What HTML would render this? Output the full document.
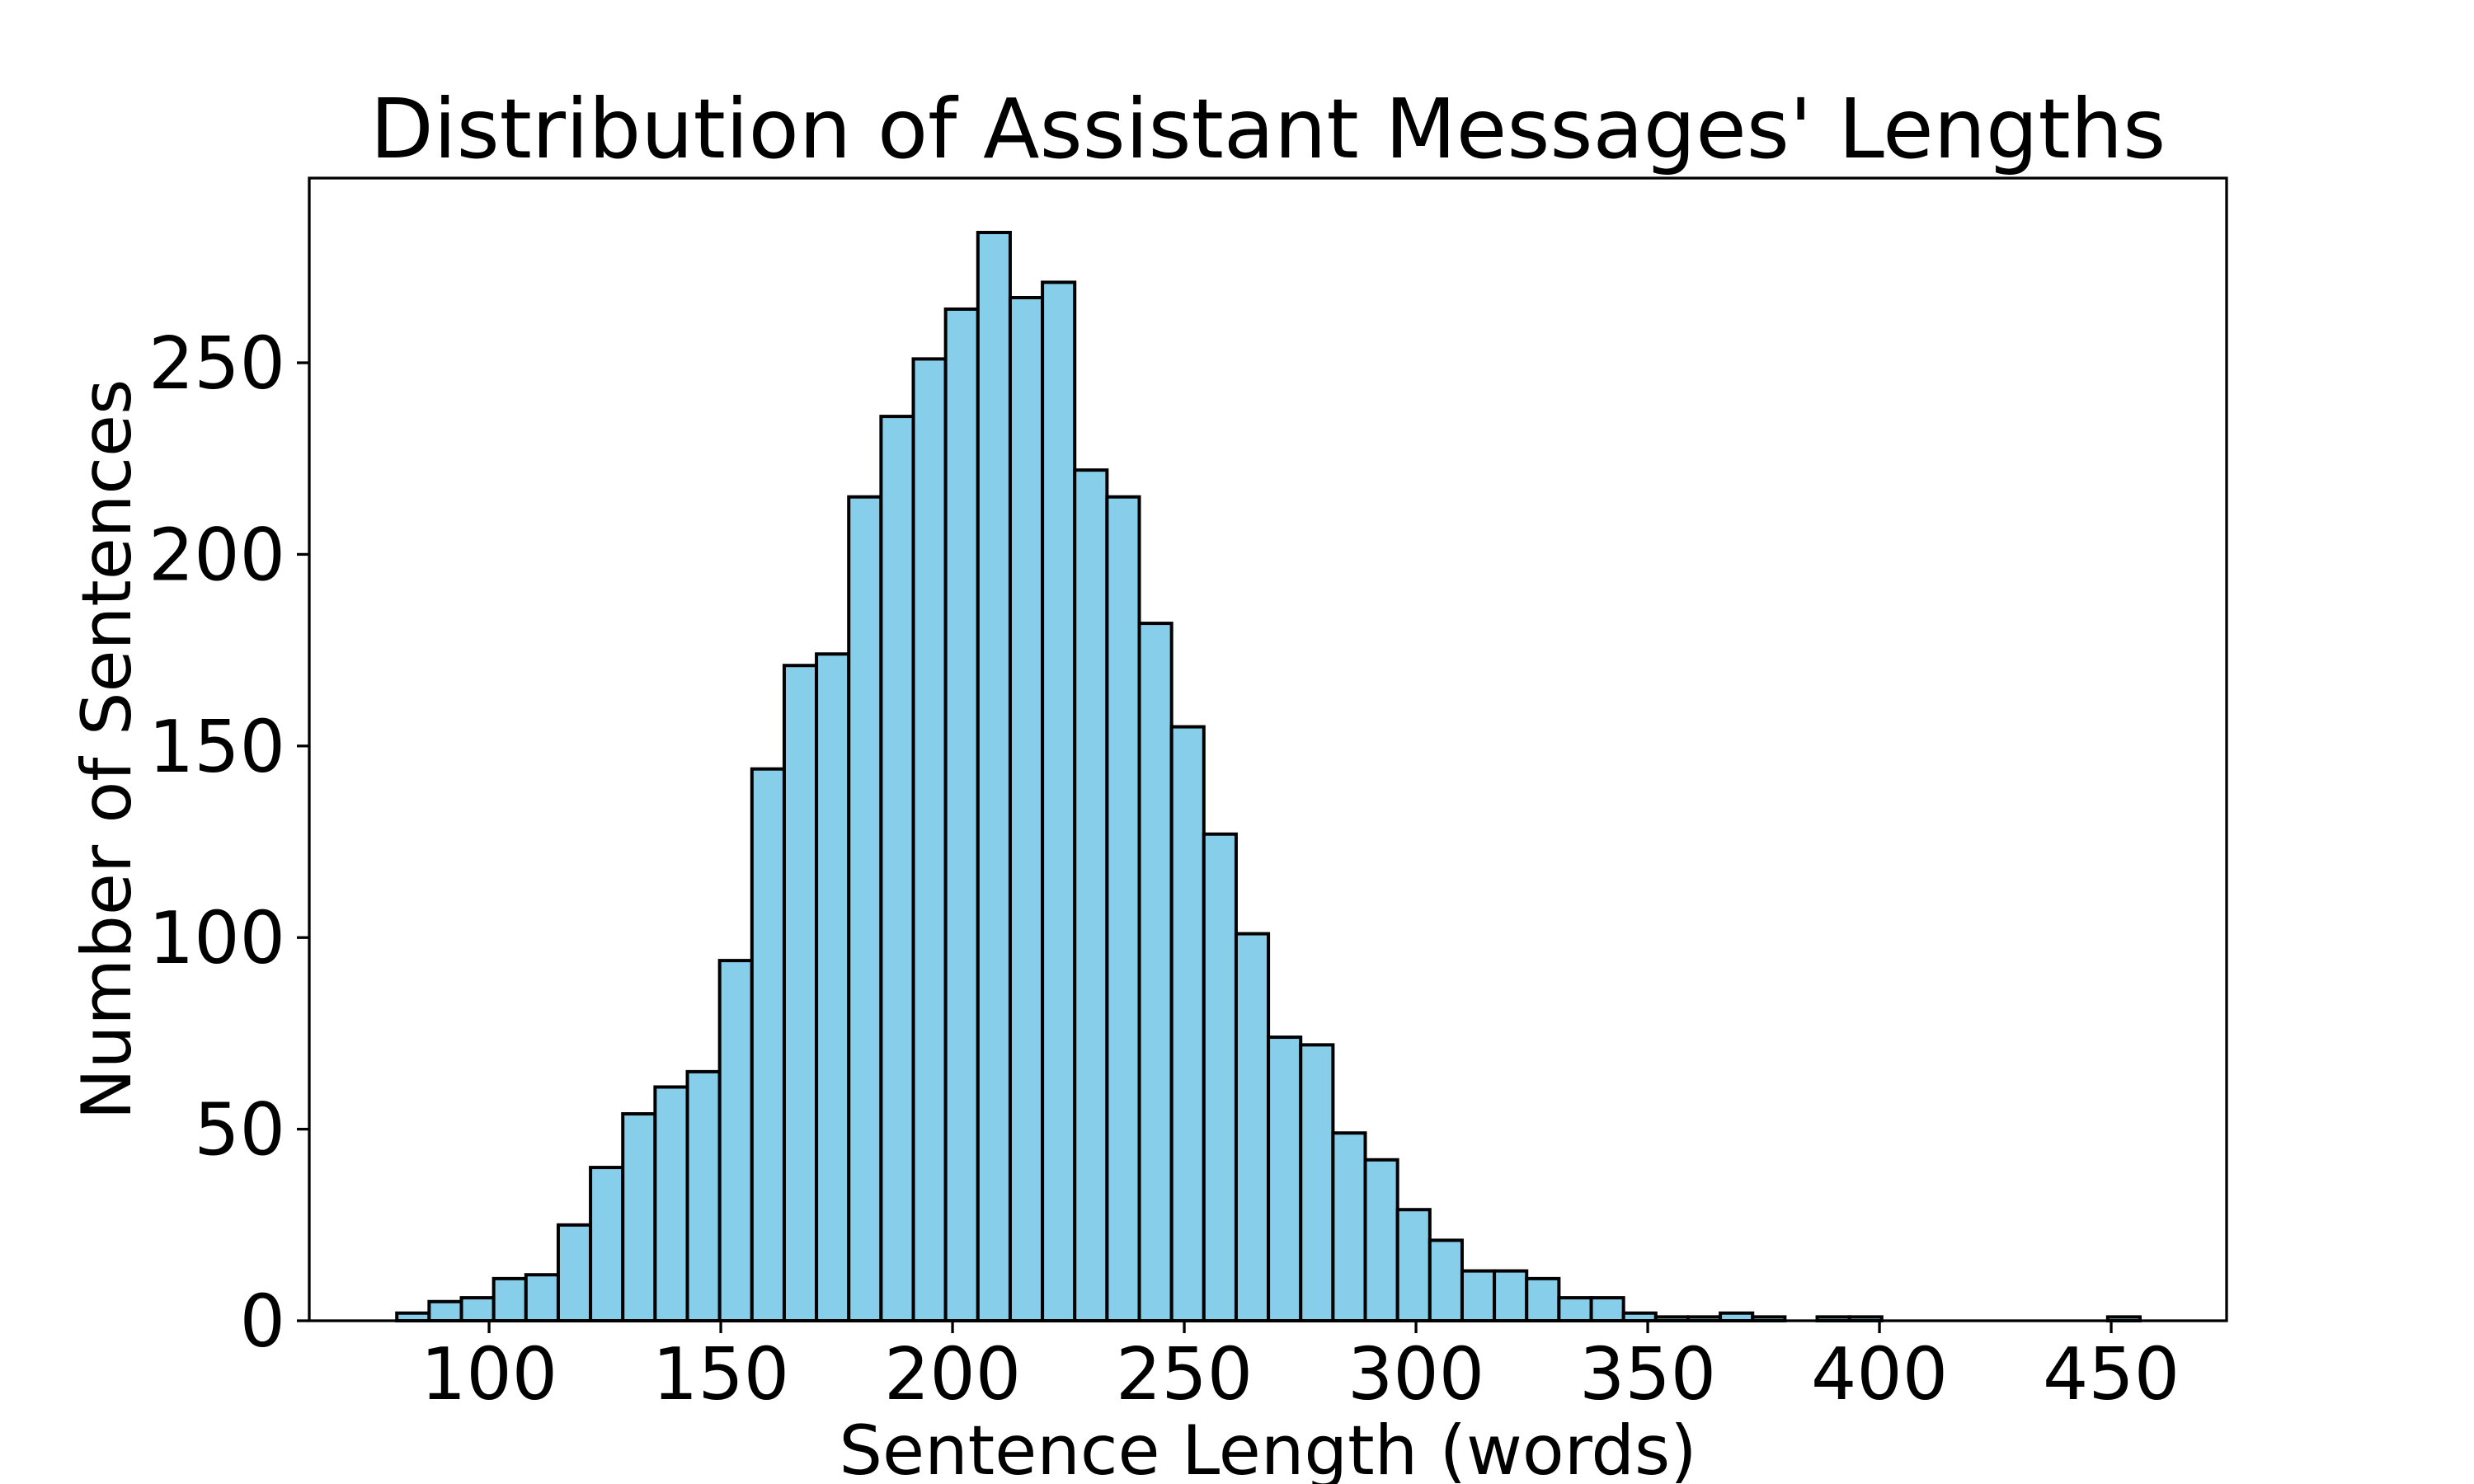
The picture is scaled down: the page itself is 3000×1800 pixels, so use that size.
<!DOCTYPE html>
<html><head><meta charset="utf-8"><style>
html,body{margin:0;padding:0;background:#fff;}
svg{display:block;font-family:"DejaVu Sans","Liberation Sans",sans-serif;}
</style></head><body>
<svg id="chart" width="3000" height="1800" viewBox="0 0 3000 1800">
<rect x="0" y="0" width="3000" height="1800" fill="#fff"/>
<g id="bars"></g>
<g id="xticks"></g>
<g id="yticks"></g>
<rect x="375" y="216" width="2325" height="1386" fill="none" stroke="#000" stroke-width="3.3"/>
<text x="1537.5" y="191" font-size="100" text-anchor="middle">Distribution of Assistant Messages' Lengths</text>
<text x="1537.5" y="1788" font-size="83" text-anchor="middle">Sentence Length (words)</text>
<text transform="translate(158,909) rotate(-90)" x="0" y="0" font-size="83" text-anchor="middle">Number of Sentences</text>
</svg>
<script>
const binStart = 80.1;
const binWidth = 6.965;
const counts = [2,5,6,11,12,25,40,54,61,65,94,144,171,174,215,236,251,264,284,267,271,222,215,182,155,127,101,74,72,49,42,29,21,13,13,11,6,6,2,1,1,2,1,0,1,1,0,0,0,0,0,0,0,1];
const xTicks = [100,150,200,250,300,350,400,450];
const yTicks = [0,50,100,150,200,250];

const X0=375, X1=2700, Y0=1602, Y1=216;
const xMin=61.2, xMax=474.9, yMin=0, yMax=298.2;
function sx(v){return X0+(v-xMin)/(xMax-xMin)*(X1-X0);}
function sy(v){return Y0-(v-yMin)/(yMax-yMin)*(Y0-Y1);}
const NS="http://www.w3.org/2000/svg";
const bars=document.getElementById('bars');
counts.forEach((c,i)=>{
  if(c<=0) return;
  const a=binStart+i*binWidth, b=a+binWidth;
  const r=document.createElementNS(NS,'rect');
  r.setAttribute('x',sx(a));
  r.setAttribute('y',sy(c));
  r.setAttribute('width',sx(b)-sx(a));
  r.setAttribute('height',sy(0)-sy(c));
  r.setAttribute('fill','#87CEEB');
  r.setAttribute('stroke','#000');
  r.setAttribute('stroke-width','4');
  
  
  bars.appendChild(r);
});
const xt=document.getElementById('xticks');
xTicks.forEach(v=>{
  const l=document.createElementNS(NS,'line');
  l.setAttribute('x1',sx(v));l.setAttribute('x2',sx(v));
  l.setAttribute('y1',Y0);l.setAttribute('y2',Y0+15);
  l.setAttribute('stroke','#000');l.setAttribute('stroke-width','3.3');
  
  
  xt.appendChild(l);
  const t=document.createElementNS(NS,'text');
  t.setAttribute('x',sx(v));t.setAttribute('y',1697);
  t.setAttribute('font-size','87');t.setAttribute('text-anchor','middle');
  t.textContent=v;
  
  
  xt.appendChild(t);
});
const yt=document.getElementById('yticks');
yTicks.forEach(v=>{
  const l=document.createElementNS(NS,'line');
  l.setAttribute('x1',X0-15);l.setAttribute('x2',X0);
  l.setAttribute('y1',sy(v));l.setAttribute('y2',sy(v));
  l.setAttribute('stroke','#000');l.setAttribute('stroke-width','3.3');
  
  
  yt.appendChild(l);
  const t=document.createElementNS(NS,'text');
  t.setAttribute('x',X0-29);t.setAttribute('y',sy(v)+31);
  t.setAttribute('font-size','87');t.setAttribute('text-anchor','end');
  t.textContent=v;
  
  
  yt.appendChild(t);
});
</script>
</body></html>
